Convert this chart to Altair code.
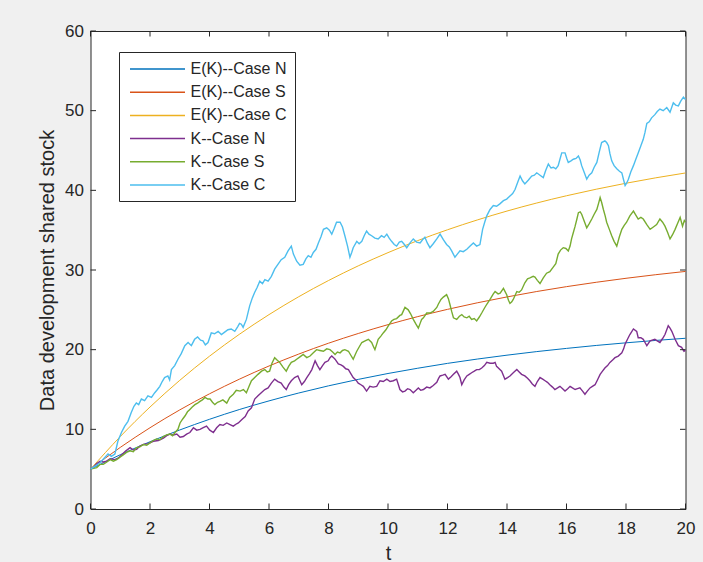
import altair as alt
import pandas as pd

# Series names and MATLAB-style line colours
SERIES = ["E(K)--Case N", "E(K)--Case S", "E(K)--Case C",
          "K--Case N", "K--Case S", "K--Case C"]
COLORS = ["#0072BD", "#D95319", "#EDB120", "#7E2F8E", "#77AC30", "#4DBEEE"]

# Expected stock E(K), sampled once per unit of t
EK_T = list(range(21))
EK_N = [5.00, 6.81, 8.44, 9.92, 11.26, 12.48, 13.57, 14.56, 15.46, 16.27, 17.01,
        17.67, 18.28, 18.82, 19.31, 19.76, 20.16, 20.53, 20.86, 21.16, 21.43]
EK_S = [5.00, 7.73, 10.20, 12.44, 14.46, 16.29, 17.95, 19.45, 20.81, 22.03, 23.14,
        24.15, 25.06, 25.88, 26.62, 27.30, 27.91, 28.46, 28.96, 29.41, 29.82]
EK_C = [5.00, 9.09, 12.80, 16.15, 19.18, 21.92, 24.40, 26.65, 28.68, 30.52, 32.18,
        33.69, 35.05, 36.28, 37.40, 38.41, 39.32, 40.14, 40.89, 41.57, 42.18]

# Simulated stock paths K(t)
KN_T = [0, 0.11, 0.21, 0.32, 0.43, 0.54, 0.66, 0.82, 0.94, 1.05, 1.19, 1.33, 1.44, 1.55,
        1.66, 1.78, 1.94, 2.11, 2.28, 2.45, 2.56, 2.67, 2.79, 2.9, 3.01, 3.12, 3.23, 3.34,
        3.46, 3.57, 3.68, 3.79, 3.9, 4.01, 4.13, 4.24, 4.35, 4.46, 4.58, 4.69, 4.8, 4.91,
        4.97, 5.08, 5.2, 5.3, 5.41, 5.52, 5.63, 5.74, 5.86, 5.97, 6.08, 6.19, 6.3, 6.41,
        6.5, 6.58, 6.66, 6.75, 6.86, 6.97, 7.04, 7.1, 7.19, 7.27, 7.36, 7.44, 7.5, 7.55,
        7.63, 7.71, 7.8, 7.88, 7.99, 8.05, 8.11, 8.17, 8.22, 8.33, 8.42, 8.5, 8.58, 8.67,
        8.75, 8.83, 8.92, 9.0, 9.09, 9.17, 9.28, 9.39, 9.5, 9.62, 9.73, 9.84, 9.96, 10.07,
        10.18, 10.29, 10.35, 10.4, 10.49, 10.57, 10.66, 10.74, 10.85, 10.94, 11.02, 11.1,
        11.19, 11.3, 11.41, 11.52, 11.64, 11.7, 11.75, 11.84, 11.92, 12.03, 12.12, 12.2,
        12.31, 12.37, 12.42, 12.48, 12.56, 12.65, 12.73, 12.81, 12.9, 12.98, 13.07, 13.15,
        13.24, 13.32, 13.43, 13.54, 13.6, 13.65, 13.71, 13.82, 13.93, 14.02, 14.1, 14.21,
        14.33, 14.41, 14.49, 14.6, 14.69, 14.77, 14.85, 14.94, 15.02, 15.11, 15.2, 15.28,
        15.36, 15.44, 15.53, 15.61, 15.7, 15.78, 15.87, 15.95, 16.04, 16.12, 16.2, 16.29,
        16.37, 16.45, 16.54, 16.62, 16.7, 16.79, 16.87, 16.96, 17.04, 17.13, 17.21, 17.29,
        17.38, 17.46, 17.55, 17.63, 17.74, 17.86, 17.92, 17.97, 18.05, 18.13, 18.25, 18.36,
        18.41, 18.5, 18.58, 18.64, 18.7, 18.81, 18.97, 19.05, 19.14, 19.23, 19.31, 19.42,
        19.48, 19.54, 19.65, 19.76, 19.87, 19.95, 20.0]
KN_V = [5.0, 5.3, 5.7, 6.0, 5.9, 6.0, 6.3, 6.2, 6.4, 6.8, 7.3, 7.7, 7.4, 7.5,
        7.9, 8.1, 8.2, 8.5, 8.6, 8.9, 9.2, 9.4, 9.3, 9.4, 9.0, 9.1, 9.4, 9.6,
        10.2, 9.9, 10.0, 10.2, 10.4, 9.9, 9.6, 10.2, 10.6, 10.5, 10.8, 10.6, 10.4, 10.7,
        10.8, 11.2, 11.6, 12.3, 12.7, 13.8, 14.2, 14.6, 15.0, 15.2, 15.8, 16.3, 16.0, 15.8,
        15.3, 15.0, 15.6, 16.1, 16.5, 16.7, 16.1, 15.6, 16.0, 16.5, 17.0, 17.5, 18.1, 18.6,
        18.0, 17.5, 18.0, 18.4, 18.6, 19.0, 19.2, 19.0, 18.8, 18.2, 18.1, 17.9, 17.6, 17.5,
        17.0, 16.5, 16.2, 15.8, 15.6, 15.4, 14.8, 15.4, 15.3, 15.4, 16.1, 16.0, 16.3, 16.0,
        16.1, 16.3, 15.6, 15.0, 14.7, 14.8, 15.1, 15.0, 14.6, 14.9, 15.2, 14.9,
        15.0, 15.3, 15.2, 15.5, 15.9, 16.4, 16.7, 16.8, 16.9, 16.3, 16.6, 16.9,
        17.3, 16.9, 16.5, 15.6, 16.2, 16.7, 16.9, 17.1, 17.3, 17.5, 17.5, 17.7,
        18.0, 18.4, 18.3, 18.3, 18.4, 17.9, 17.7, 17.3, 16.3, 16.5, 16.7, 17.1,
        17.5, 17.2, 16.9, 16.7, 16.4, 16.1, 15.7, 15.4, 16.0, 16.5, 16.3, 16.1,
        15.9, 15.6, 15.3, 15.0, 15.2, 15.4, 15.1, 14.8, 15.1, 15.4, 15.2, 15.0,
        15.1, 15.2, 14.8, 14.4, 14.8, 15.2, 15.4, 15.6, 16.2, 16.9, 17.3, 17.7,
        18.0, 18.4, 18.7, 19.0, 19.2, 19.6, 20.1, 20.7, 21.3, 21.9, 22.6, 22.3,
        21.5, 21.5, 21.3, 20.9, 20.5, 21.1, 21.3, 21.1, 20.9, 21.4, 21.9, 23.0,
        22.7, 22.3, 21.3, 20.5, 20.3, 19.8, 19.9]

KS_T = [0, 0.21, 0.32, 0.43, 0.55, 0.66, 0.77, 0.88, 0.99, 1.1, 1.21, 1.33, 1.44, 1.55,
        1.66, 1.78, 1.89, 2.0, 2.11, 2.22, 2.33, 2.45, 2.56, 2.67, 2.76, 2.84, 2.94, 3.01,
        3.1, 3.18, 3.26, 3.34, 3.42, 3.51, 3.6, 3.68, 3.76, 3.85, 3.94, 4.02, 4.1, 4.18,
        4.27, 4.35, 4.45, 4.58, 4.68, 4.8, 4.9, 5.03, 5.14, 5.24, 5.33, 5.41, 5.52, 5.63,
        5.75, 5.86, 5.94, 6.02, 6.1, 6.19, 6.27, 6.36, 6.47, 6.58, 6.66, 6.75, 6.86, 6.93,
        7.04, 7.15, 7.27, 7.38, 7.49, 7.6, 7.71, 7.83, 7.94, 8.05, 8.14, 8.22, 8.3, 8.39,
        8.47, 8.55, 8.67, 8.75, 8.83, 8.9, 8.95, 9.04, 9.12, 9.23, 9.34, 9.45, 9.51, 9.56,
        9.62, 9.67, 9.76, 9.84, 9.93, 10.01, 10.12, 10.2, 10.29, 10.4, 10.46, 10.57, 10.68,
        10.76, 10.85, 10.94, 11.02, 11.08, 11.13, 11.19, 11.3, 11.41, 11.52, 11.64, 11.69,
        11.78, 11.86, 11.97, 12.03, 12.08, 12.14, 12.2, 12.31, 12.4, 12.48, 12.56, 12.65,
        12.73, 12.81, 12.9, 12.98, 13.07, 13.15, 13.24, 13.32, 13.43, 13.54, 13.6, 13.7,
        13.77, 13.88, 13.99, 14.05, 14.1, 14.16, 14.21, 14.33, 14.41, 14.49, 14.6, 14.69,
        14.77, 14.88, 14.94, 15.02, 15.11, 15.22, 15.33, 15.44, 15.56, 15.64, 15.72, 15.8,
        15.89, 15.98, 16.06, 16.12, 16.17, 16.23, 16.29, 16.35, 16.4, 16.46, 16.51, 16.6,
        16.68, 16.76, 16.85, 16.93, 17.02, 17.08, 17.13, 17.18, 17.24, 17.3, 17.35, 17.44,
        17.52, 17.6, 17.69, 17.78, 17.86, 17.94, 18.02, 18.13, 18.25, 18.33, 18.41, 18.5,
        18.58, 18.7, 18.81, 18.92, 19.03, 19.14, 19.23, 19.31, 19.4, 19.48, 19.56, 19.65,
        19.74, 19.82, 19.9, 19.96, 20.0]
KS_V = [5.0, 5.2, 5.6, 5.6, 5.9, 6.2, 6.0, 6.2, 6.5, 6.8, 7.1, 7.3, 7.2, 7.7,
        7.8, 8.1, 8.0, 8.3, 8.6, 8.8, 8.7, 9.1, 9.3, 9.4, 9.2, 9.6, 10.0, 10.8,
        11.3, 11.7, 12.2, 12.5, 12.8, 13.1, 13.3, 13.5, 13.7, 14.0, 13.8, 13.8, 13.4, 13.1,
        13.4, 13.5, 13.7, 13.3, 14.0, 14.4, 14.9, 14.8, 15.0, 14.6, 15.4, 16.1, 16.5, 16.9,
        17.3, 17.5, 17.2, 17.3, 18.3, 19.0, 18.7, 18.4, 17.8, 17.3, 17.9, 18.4, 18.6, 18.8,
        19.1, 19.4, 19.0, 19.2, 19.6, 20.0, 19.9, 19.8, 20.1, 20.0, 19.7, 19.4, 19.7, 19.6,
        19.9, 20.0, 19.8, 19.3, 18.8, 19.4, 19.8, 20.4, 20.9, 21.1, 21.3, 20.9, 20.4, 20.0,
        20.7, 21.3, 21.7, 22.1, 22.5, 23.0, 23.6, 23.8, 23.9, 24.3, 24.4, 25.3, 25.0,
        24.5, 23.8, 23.2, 22.7, 23.3, 23.8, 24.0, 24.6, 24.6, 24.8, 25.3, 25.7,
        26.3, 26.6, 26.9, 26.4, 25.7, 24.8, 24.0, 23.8, 24.2, 24.4, 24.1, 24.0,
        24.2, 23.8, 23.9, 23.6, 24.1, 24.6, 25.2, 25.7, 26.3, 27.0, 27.3, 27.0,
        27.1, 27.7, 26.9, 26.2, 25.8, 26.0, 26.3, 27.3, 27.2, 27.5, 28.4, 28.9,
        29.0, 29.2, 29.1, 28.7, 28.3, 29.0, 29.6, 29.8, 30.4, 30.8, 32.0, 32.5,
        32.8, 32.7, 32.4, 33.0, 33.9, 34.7, 35.5, 36.4, 37.2, 37.3, 37.0, 36.1,
        35.3, 35.8, 36.4, 37.0, 37.6, 38.4, 39.1, 38.5, 37.6, 36.8, 36.0, 35.1,
        34.3, 33.6, 33.0, 34.2, 35.1, 35.6, 36.0, 36.8, 37.4, 36.9, 36.4, 36.6,
        36.4, 35.7, 35.1, 35.4, 35.7, 36.4, 36.0, 35.5, 34.7, 33.9, 34.4, 35.1,
        35.9, 36.6, 35.5, 36.2, 36.0]

KC_T = [0, 0.32, 0.59, 0.7, 0.82, 0.92, 1.04, 1.15, 1.26, 1.37, 1.46, 1.54, 1.62, 1.71,
        1.82, 1.93, 2.05, 2.16, 2.25, 2.33, 2.41, 2.49, 2.6, 2.66, 2.72, 2.83, 2.94, 3.05,
        3.17, 3.28, 3.39, 3.5, 3.6, 3.7, 3.78, 3.86, 3.95, 4.06, 4.17, 4.29, 4.4, 4.51,
        4.62, 4.73, 4.85, 4.95, 5.01, 5.07, 5.13, 5.24, 5.35, 5.44, 5.52, 5.6, 5.69, 5.78,
        5.86, 5.97, 6.08, 6.19, 6.3, 6.41, 6.53, 6.64, 6.75, 6.82, 6.93, 7.04, 7.15, 7.24,
        7.32, 7.41, 7.49, 7.58, 7.66, 7.75, 7.83, 7.94, 8.03, 8.11, 8.19, 8.27, 8.39, 8.47,
        8.55, 8.64, 8.72, 8.78, 8.83, 8.95, 9.03, 9.12, 9.2, 9.28, 9.36, 9.45, 9.56, 9.67,
        9.78, 9.87, 9.96, 10.04, 10.12, 10.21, 10.29, 10.38, 10.46, 10.55, 10.63, 10.74,
        10.85, 10.96, 11.08, 11.16, 11.24, 11.32, 11.41, 11.52, 11.64, 11.75, 11.86, 11.97,
        12.06, 12.14, 12.25, 12.33, 12.42, 12.53, 12.65, 12.76, 12.87, 12.98, 13.09, 13.18,
        13.25, 13.32, 13.43, 13.54, 13.65, 13.76, 13.88, 13.99, 14.1, 14.19, 14.27, 14.36,
        14.44, 14.52, 14.6, 14.72, 14.83, 14.92, 15.0, 15.11, 15.22, 15.3, 15.39, 15.48,
        15.56, 15.64, 15.72, 15.78, 15.84, 15.95, 16.01, 16.06, 16.15, 16.23, 16.32, 16.4,
        16.46, 16.51, 16.6, 16.68, 16.76, 16.85, 16.93, 17.02, 17.1, 17.18, 17.29, 17.35,
        17.41, 17.46, 17.52, 17.6, 17.69, 17.78, 17.86, 17.92, 17.97, 18.02, 18.08, 18.16,
        18.25, 18.33, 18.41, 18.5, 18.58, 18.64, 18.7, 18.78, 18.86, 18.97, 19.05, 19.14,
        19.25, 19.37, 19.48, 19.59, 19.67, 19.76, 19.84, 19.93, 20.0]
KC_V = [5.0, 5.8, 6.9, 6.6, 6.9, 8.5, 9.6, 10.4, 11.0, 12.1, 12.9, 13.3, 13.1, 13.8,
        13.6, 14.2, 14.0, 14.6, 15.0, 15.4, 16.0, 16.5, 16.7, 16.2, 17.5, 18.0, 18.8, 19.5,
        20.5, 20.9, 20.5, 21.3, 21.6, 21.2, 21.1, 20.6, 20.9, 22.1, 22.0, 22.3, 21.9, 22.2,
        22.5, 22.6, 22.3, 22.9, 23.3, 23.2, 22.8, 23.8, 25.5, 26.5, 27.2, 27.8, 28.6, 28.3,
        28.8, 28.6, 29.2, 30.1, 30.7, 31.3, 31.6, 32.4, 33.0, 32.0, 31.1, 30.6, 30.7, 31.4,
        31.8, 31.6, 32.2, 32.6, 33.4, 34.2, 35.1, 35.3, 35.0, 34.5, 35.2, 36.0, 36.0, 35.4,
        34.3, 33.0, 31.6, 32.2, 32.8, 33.6, 33.3, 33.6, 34.3, 34.9, 34.5, 34.3, 34.0, 33.9,
        34.3, 34.1, 34.5, 34.0, 33.6, 33.2, 33.0, 33.5, 33.6, 33.2, 32.8, 33.4,
        33.9, 33.5, 33.4, 33.8, 34.1, 33.4, 32.8, 33.3, 33.9, 34.5, 33.8, 33.2,
        32.9, 32.4, 31.6, 32.0, 32.4, 32.3, 32.6, 33.0, 33.4, 33.0, 33.2, 35.1,
        36.0, 36.8, 37.6, 38.1, 38.0, 38.3, 38.7, 38.9, 39.3, 39.6, 40.1, 41.0,
        41.8, 41.2, 40.8, 41.3, 41.8, 41.9, 42.2, 41.9, 41.6, 42.5, 43.3, 42.8,
        42.9, 42.7, 43.1, 43.9, 44.7, 44.7, 44.0, 43.5, 43.7, 43.9, 44.0, 44.3,
        43.8, 43.1, 42.2, 41.4, 41.9, 42.2, 42.9, 43.5, 44.8, 46.0, 46.2, 46.0,
        45.6, 44.6, 43.7, 43.1, 42.7, 42.4, 42.2, 41.3, 40.6, 40.9, 41.4, 42.3,
        43.1, 43.9, 44.7, 45.6, 46.4, 47.3, 48.4, 48.6, 49.1, 49.5, 49.9, 50.2,
        50.0, 50.4, 49.8, 51.0, 50.7, 50.6, 51.2, 51.7, 51.4]

X_TICKS = list(range(0, 21, 2))
Y_TICKS = list(range(0, 61, 10))

W, H = 595, 478
INK = "#262626"
FONT = "Liberation Sans"


def frame(name, ts, vs):
    return pd.DataFrame({"series": name, "t": ts, "value": vs})


expected = pd.concat([frame(SERIES[0], EK_T, EK_N),
                      frame(SERIES[1], EK_T, EK_S),
                      frame(SERIES[2], EK_T, EK_C)], ignore_index=True)
paths = pd.concat([frame(SERIES[3], KN_T, KN_V),
                   frame(SERIES[4], KS_T, KS_V),
                   frame(SERIES[5], KC_T, KC_V)], ignore_index=True)

x_scale = alt.Scale(domain=[0, 20], nice=False, zero=False)
y_scale = alt.Scale(domain=[0, 60], nice=False)

# Legend key: a long horizontal stroke on a small symbol footprint so rows stay compact
color = alt.Color(
    "series:N",
    scale=alt.Scale(domain=SERIES, range=COLORS),
    sort=SERIES,
    legend=alt.Legend(
        title=None, orient="none", legendX=28.5, legendY=21,
        symbolType="M-3.4375,0H3.4375", symbolSize=256, symbolStrokeWidth=1.5,
        symbolFillColor="transparent", symbolOffset=21.5,
        labelFontSize=16, labelFont=FONT, labelColor=INK, labelOffset=24,
        padding=8, rowPadding=6.2,
        fillColor="white", strokeColor=INK,
    ),
)

axis_style = dict(ticks=False, domain=False, grid=False, labelFlush=False,
                  labelFontSize=17, labelFont=FONT, labelColor=INK,
                  titleFontSize=20, titleFont=FONT, titleColor=INK,
                  titleFontWeight="normal", titleBaseline="alphabetic")

x_enc = alt.X(
    "t:Q", scale=x_scale, title="t",
    axis=alt.Axis(values=X_TICKS, labelPadding=11, titleY=50, **axis_style),
)
y_enc = alt.Y(
    "value:Q", scale=y_scale, title="Data development shared stock",
    axis=alt.Axis(values=Y_TICKS, labelPadding=7, titleX=-37, titleY=H / 2, **axis_style),
)

expected_lines = alt.Chart(expected).mark_line(
    interpolate="monotone", strokeWidth=1
).encode(x=x_enc, y=y_enc, color=color, order="t:Q")

path_lines = alt.Chart(paths).mark_line(strokeWidth=1.4).encode(
    x=alt.X("t:Q", scale=x_scale), y=alt.Y("value:Q", scale=y_scale),
    color=alt.Color("series:N", scale=alt.Scale(domain=SERIES, range=COLORS)),
    order="t:Q",
)

# Inward tick marks on all four sides of the box
xt = pd.DataFrame({"t": X_TICKS})
yt = pd.DataFrame({"value": Y_TICKS})
tick = dict(color=INK, strokeWidth=1)
bottom_ticks = alt.Chart(xt).mark_rule(**tick).encode(
    x=alt.X("t:Q", scale=x_scale), y=alt.value(H), y2=alt.value(H - 5.5))
top_ticks = alt.Chart(xt).mark_rule(**tick).encode(
    x=alt.X("t:Q", scale=x_scale), y=alt.value(0), y2=alt.value(5.5))
left_ticks = alt.Chart(yt).mark_rule(**tick).encode(
    y=alt.Y("value:Q", scale=y_scale), x=alt.value(0), x2=alt.value(5.5))
right_ticks = alt.Chart(yt).mark_rule(**tick).encode(
    y=alt.Y("value:Q", scale=y_scale), x=alt.value(W), x2=alt.value(W - 5.5))

chart = alt.layer(
    expected_lines, path_lines,
    bottom_ticks, top_ticks, left_ticks, right_ticks,
).properties(
    width=W, height=H,
    autosize=alt.AutoSizeParams(type="none"),
    padding={"left": 90.5, "top": 31, "right": 17.5, "bottom": 53},
).configure(
    background="#f0f0f0",
).configure_view(
    fill="white", stroke=INK, strokeWidth=1,
)

chart.save("out.html", embed_options={"renderer": "svg", "actions": False})
